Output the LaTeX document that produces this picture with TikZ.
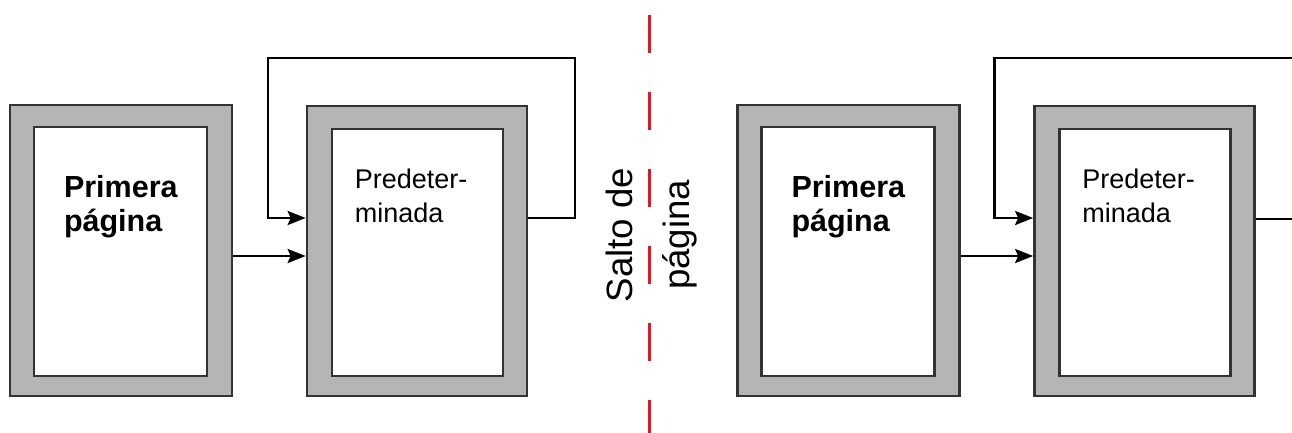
\documentclass[tikz,border=0pt]{standalone}
\usepackage{fontspec}
\setmainfont{Liberation Sans}
\usetikzlibrary{arrows.meta}
\definecolor{pagegray}{HTML}{B5B5B5}
\definecolor{edgegray}{HTML}{333333}
\definecolor{breakred}{HTML}{F01020}
\begin{document}
\begin{tikzpicture}[x=1pt,y=-1pt,
  outerbox/.style={draw=edgegray,line width=2.7pt,fill=pagegray,minimum width=#1,inner sep=0pt,rectangle},
  innerbox/.style={draw=edgegray,line width=2.7pt,fill=white,inner sep=0pt,rectangle},
  conn/.style={draw=black,line width=2.5pt,line join=miter},
  arr/.style={conn,-{Stealth[length=18pt,width=14pt,inset=3pt]}},
  boldtxt/.style={font=\fontsize{30.5}{34.5}\selectfont\bfseries,align=left,inner sep=0pt,anchor=north west},
  regtxt/.style={font=\fontsize{27}{34}\selectfont,align=left,inner sep=0pt,anchor=north west},
  breakline/.style={draw=breakred,line width=3pt,dash pattern=on 38pt off 39pt}
]
\useasboundingbox (0,0) rectangle (1292,432);

% ---------- left half ----------
\node[outerbox=222pt,minimum height=291pt] (p1) at (121,250.5) {};
\node[innerbox,minimum width=173pt,minimum height=249pt] (p1in) at (120.5,251.5) {};
\node[boldtxt] (t1) at (63.8,175) {Primera\\página};

\node[outerbox=220pt,minimum height=290pt] (p2) at (417,251) {};
\node[innerbox,minimum width=171pt,minimum height=247pt] (p2in) at (417.5,252.5) {};
\node[regtxt] (t2) at (354.6,169) {Predeter-\\minada};

\coordinate (yLow) at (0,256);
\coordinate (yHigh) at (0,218);
\coordinate (loopL) at (268,58);
\coordinate (loopR) at (575,58);

\draw[arr] (p1.east |- yLow) -- (p2.west |- yLow);
\draw[arr] (p2.east |- yHigh) -- (loopR |- yHigh) -- (loopR) -- (loopL) -- (loopL |- yHigh) -- (p2.west |- yHigh);

% ---------- page break ----------
\coordinate (brkTop) at (649,15);
\coordinate (brkBot) at (649,440);
\draw[breakline] (brkTop) -- (brkBot);
\node[rotate=90,align=center,inner sep=0pt,font=\fontsize{36.6}{57}\selectfont] (brk) at (652,235) {Salto de\\página};

% ---------- right half ----------
\begin{scope}[xshift=727.5pt]
\node[outerbox=222pt,minimum height=291pt] (q1) at (121,250.5) {};
\node[innerbox,minimum width=173pt,minimum height=249pt] (q1in) at (120.5,251.5) {};
\node[boldtxt] (u1) at (63.8,175) {Primera\\página};

\node[outerbox=220pt,minimum height=290pt] (q2) at (417,251) {};
\node[innerbox,minimum width=171pt,minimum height=247pt] (q2in) at (417.5,252.5) {};
\node[regtxt] (u2) at (354.6,169) {Predeter-\\minada};

\coordinate (rLoopL) at (267,58);
\coordinate (rLoopR) at (600,58);
\coordinate (rYHigh) at (0,219);

\draw[arr] (q1.east |- yLow) -- (q2.west |- yLow);
\draw[conn] (q2.east |- rYHigh) -- (rLoopR |- rYHigh);
\draw[arr] (rLoopR) -- (rLoopL) -- (rLoopL |- yHigh) -- (q2.west |- yHigh);
\end{scope}
\end{tikzpicture}
\end{document}
